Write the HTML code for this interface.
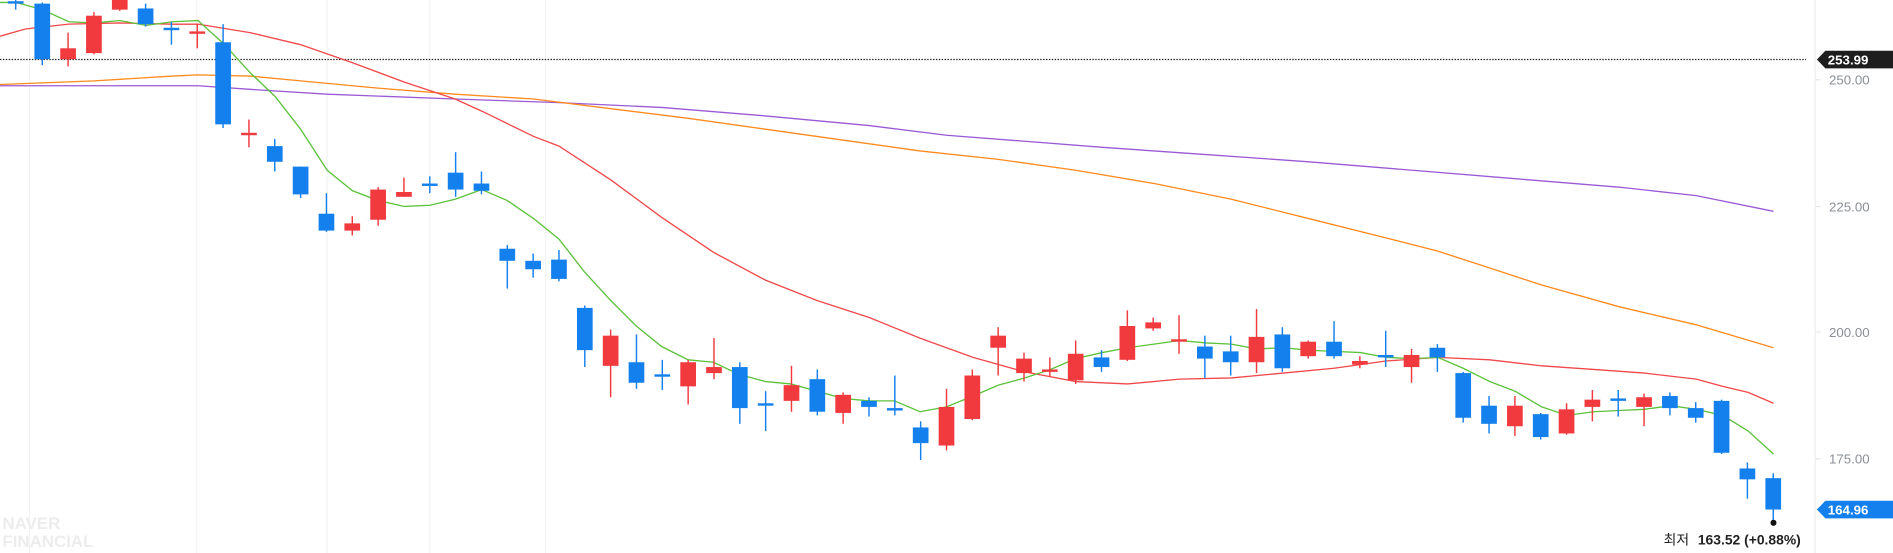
<!DOCTYPE html>
<html><head><meta charset="utf-8"><style>
html,body{margin:0;padding:0;background:#fff;width:1893px;height:553px;overflow:hidden}
svg{display:block}
text{font-family:"Liberation Sans","Noto Sans CJK KR",sans-serif}
</style></head><body>
<svg id="c" width="1893" height="553" viewBox="0 0 1568 458" preserveAspectRatio="none" xmlns="http://www.w3.org/2000/svg">
<g stroke="#f2f3f5" stroke-width="1">
<line x1="24.5" y1="0" x2="24.5" y2="458"/><line x1="163" y1="0" x2="163" y2="458"/><line x1="271" y1="0" x2="271" y2="458"/><line x1="356" y1="0" x2="356" y2="458"/><line x1="452" y1="0" x2="452" y2="458"/>
</g>
<line x1="1503.5" y1="0" x2="1503.5" y2="458" stroke="#eeeeee"/>
<text x="2" y="438" font-size="14" font-weight="bold" fill="#ececec">NAVER</text>
<text x="2" y="453" font-size="14" font-weight="bold" fill="#ececec">FINANCIAL</text>
<line x1="0" y1="49.3" x2="1496" y2="49.3" stroke="#222" stroke-width="1" stroke-dasharray="1.2,1.2"/>
<g id="ma" fill="none" stroke-width="1.1"></g>
<g id="cd"></g>
<circle cx="1469" cy="433" r="2.5" fill="#111"/>
<g font-size="11" fill="#8a8f96">
<text x="1515" y="70">250.00</text><text x="1515" y="175">225.00</text><text x="1515" y="279">200.00</text><text x="1515" y="384">175.00</text>
</g>
<g stroke="#e6e6e6"><line x1="1504" y1="66" x2="1508" y2="66"/><line x1="1504" y1="171" x2="1508" y2="171"/><line x1="1504" y1="275" x2="1508" y2="275"/><line x1="1504" y1="380" x2="1508" y2="380"/></g>
<polygon points="1505,49.3 1512,42 1568,42 1568,56.6 1512,56.6" fill="#1e1e1e"/>
<text x="1514" y="53.3" font-size="11" fill="#fff" font-weight="bold">253.99</text>
<polygon points="1505,422 1512,414.7 1568,414.7 1568,429.3 1512,429.3" fill="#1480ed"/>
<text x="1514" y="426" font-size="11" fill="#fff" font-weight="bold">164.96</text>
<text x="1378" y="451" font-size="11.5" fill="#222">최저 <tspan font-weight="bold" dx="4">163.52 (+0.88%)</tspan></text>
</svg>
<script>
var C=[
['b',2,2,-4,8,13],
['b',3,49,2,54],['r',40,49,27,55],['r',13,44,10,45],['r',0,8,-2,9],['b',7,20,3,22],['b',24,24,18,37],['r',27,27,20,40],['b',35,103,20,106],['r',111,111,99,122],['b',121,134,115,142],['b',138,161,138,164],['b',177,191,160,192],['r',185,191,179,195],['r',157,182,155,187],['r',159,163,147,163],['b',153,153,146,160],['b',143,157,126,163],['b',152,158,142,161],['b',206,216,203,239],['b',216,223,210,230],['b',215,231,207,233],['b',255,290,253,304],['r',278,303,273,329],['b',300,317,277,322],['b',311,311,298,323],['r',300,320,298,335],['r',304,309,280,314],['b',304,338,300,351],['b',335,335,324,357],['r',319,332,303,341],['b',314,341,306,344],['r',327,342,325,351],['b',332,337,329,345],['b',339,339,311,344],['b',354,367,349,381],['r',337,369,322,373],['r',311,347,306,348],['r',278,288,271,311],['r',297,309,292,316],['r',307,307,296,312],['r',293,315,282,318],['b',296,304,290,308],['r',270,298,257,299],['r',267,272,263,274],['r',282,282,261,293],['b',287,297,278,313],['b',291,300,278,311],['r',279,300,256,309],['b',277,305,271,308],['r',283,295,282,297],['b',283,295,266,297],['r',299,302,295,305],['b',295,295,274,304],['r',294,304,289,317],['b',288,296,285,308],['b',309,346,308,350],['b',336,351,328,359],['r',336,353,328,361],['b',343,362,342,364],['r',339,359,334,360],['r',331,337,323,349],['b',331,331,323,345],['r',329,337,326,353],['b',328,338,325,344],['b',338,346,333,350],['b',332,375,331,376],['b',388,397,383,413],['b',396,422,392,431]];
var s='';var W=13;
C.forEach(function(c,k){var x=k==0?13:35+21.4*(k-1);var col=c[0]=='b'?'#1480ed':'#f03a3e';
s+='<line x1="'+x+'" x2="'+x+'" y1="'+c[3]+'" y2="'+c[4]+'" stroke="'+col+'" stroke-width="1.2"/>';
var h=c[2]-c[1];if(h<2){s+='<rect x="'+(x-W/2)+'" y="'+(c[1]-1)+'" width="'+W+'" height="2" fill="'+col+'"/>';}
else s+='<rect x="'+(x-W/2)+'" y="'+c[1]+'" width="'+W+'" height="'+h+'" fill="'+col+'"/>';});
document.getElementById('cd').innerHTML=s;
var M={
'#9b59d6':'0,71 164,71 207,74 271,78 377,82 463,85 548,89 634,96 720,104 784,112 849,117 913,122 999,128 1084,134 1170,141 1255,148 1341,155 1405,162 1469,175',
'#ff8a1e':'0,70 78,67 143,63 164,62 207,63 249,67 313,73 377,78 442,82 506,90 570,98 634,107 698,116 762,125 827,132 891,141 956,152 1020,165 1084,181 1148,197 1191,208 1234,222 1277,236 1341,254 1405,269 1469,288',
'#f0484a':'0,30 21,24 57,20 99,19 143,20 164,20 207,27 249,37 292,52 335,68 377,82 399,92 442,113 463,121 506,149 548,180 591,209 634,232 677,249 720,263 762,280 806,296 849,308 891,316 934,318 977,314 1020,313 1063,309 1105,305 1148,299 1191,296 1234,298 1277,303 1320,306 1362,309 1405,314 1427,320 1448,325 1469,334',
'#5cc23a':'0,2 13,2 35,8 57,18 78,19 99,17 121,21 143,18 164,17 185,36 207,60 228,80 249,107 271,141 292,158 313,166 335,171 356,170 377,165 399,157 420,166 442,181 463,198 484,225 506,249 527,270 548,287 570,298 591,300 612,310 634,316 655,318 677,324 698,330 720,332 741,332 762,341 784,337 806,328 827,319 849,313 870,306 891,297 913,292 934,288 956,285 977,282 999,284 1020,285 1041,289 1063,288 1084,290 1105,291 1127,292 1148,296 1170,297 1191,296 1212,305 1234,316 1255,324 1277,337 1298,344 1320,341 1341,340 1362,339 1384,336 1405,339 1427,344 1448,357 1469,376'};
var m='';for(var k in M)m+='<polyline points="'+M[k]+'" stroke="'+k+'"/>';
document.getElementById('ma').innerHTML=m;
</script>
</body></html>
